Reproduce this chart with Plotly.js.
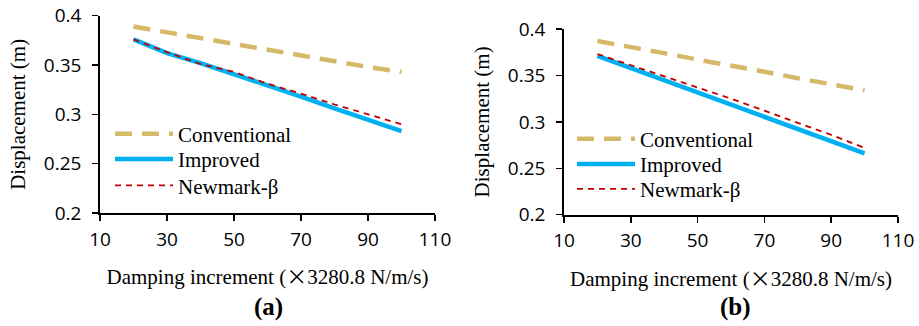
<!DOCTYPE html>
<html>
<head>
<meta charset="utf-8">
<script src="https://cdn.plot.ly/plotly-3.0.1.min.js"></script>
<style>html,body{margin:0;padding:0;background:#fff;}#chart{width:919px;height:326px;}</style>
</head>
<body>
<div id="chart"></div>
<script>
// Damping increment (x 3280.8 N/m/s)
const dampingX = [20, 30, 40, 50, 60, 70, 80, 90, 100];

// Panel (a)
const conventionalA = [0.389, 0.383, 0.377, 0.371, 0.366, 0.360, 0.354, 0.348, 0.343];
const improvedA     = [0.376, 0.362, 0.352, 0.341, 0.329, 0.318, 0.306, 0.295, 0.283];
const newmarkA      = [0.376, 0.363, 0.351, 0.343, 0.331, 0.321, 0.310, 0.300, 0.290];

// Panel (b)
const conventionalB = [0.387, 0.381, 0.374, 0.367, 0.361, 0.354, 0.347, 0.341, 0.334];
const improvedB     = [0.371, 0.358, 0.344, 0.332, 0.318, 0.306, 0.292, 0.279, 0.266];
const newmarkB      = [0.373, 0.361, 0.349, 0.337, 0.325, 0.312, 0.299, 0.286, 0.272];

const seriesNames = ["Conventional", "Improved", "Newmark-β"];
const xTickVals = [10, 30, 50, 70, 90, 110];
const yTickVals = [0.2, 0.25, 0.3, 0.35, 0.4];
const yTickText = ["0.2", "0.25", "0.3", "0.35", "0.4"];
const panelLabels = ["(a)", "(b)"];
const xTitle = "Damping increment (<span style=\"font-family:'Noto Sans CJK SC'\">×</span>3280.8 N/m/s)";
const yTitle = "Displacement (m)";

const W = 919, H = 326;
const serif = "Liberation Serif, Times New Roman, serif";
const sans = "Open Sans, sans-serif";

const styles = [
  {color: "#D4BA68", width: 4.5, dash: "17px,10px"},
  {color: "#00B0F0", width: 4.5, dash: "solid"},
  {color: "#C00000", width: 1.8, dash: "6px,5px"}
];

function mk(y, i, xa, ya, leg) {
  return {
    x: dampingX, y: y, type: "scatter", mode: "lines",
    name: seriesNames[i], line: styles[i],
    xaxis: xa, yaxis: ya, legend: leg, hoverinfo: "x+y"
  };
}

const data = [
  mk(conventionalA, 0, "x", "y", "legend"),
  mk(improvedA, 1, "x", "y", "legend2"),
  mk(newmarkA, 2, "x", "y", "legend3"),
  mk(conventionalB, 0, "x2", "y2", "legend4"),
  mk(improvedB, 1, "x2", "y2", "legend5"),
  mk(newmarkB, 2, "x2", "y2", "legend6")
];

function xAxis(domain, anchor) {
  return {
    domain: domain, anchor: anchor, range: [10, 110],
    tickvals: xTickVals, ticks: "outside", ticklen: 6, tickwidth: 1.5, tickcolor: "#000",
    ticklabelstandoff: 2,
    showline: true, linecolor: "#000", linewidth: 1.8, showgrid: false, zeroline: false,
    tickfont: {family: sans, size: 19, color: "#000"},
    title: {text: xTitle, font: {family: serif, size: 21, color: "#000"}, standoff: 19}
  };
}
function yAxis(domain, anchor) {
  return {
    domain: domain, anchor: anchor, range: [0.2, 0.4],
    tickvals: yTickVals, ticktext: yTickText, ticks: "outside", ticklen: 6, tickwidth: 1.5, tickcolor: "#000",
    ticklabelstandoff: 7,
    showline: true, linecolor: "#000", linewidth: 1.8, showgrid: false, zeroline: false,
    tickfont: {family: sans, size: 19, color: "#000"},
    title: {text: yTitle, font: {family: serif, size: 21, color: "#000"}, standoff: 12}
  };
}

const legendBase = {
  font: {family: serif, size: 21, color: "#000"},
  bgcolor: "rgba(0,0,0,0)", borderwidth: 0,
  xanchor: "left", yanchor: "middle", itemwidth: 58, tracegroupgap: 0,
  itemclick: false, itemdoubleclick: false
};
function leg(xpx, ypx) { return Object.assign({}, legendBase, {x: xpx / W, y: 1 - ypx / H}); }

const layout = {
  width: W, height: H,
  margin: {l: 0, r: 0, t: 0, b: 0},
  paper_bgcolor: "#fff", plot_bgcolor: "#fff",
  showlegend: true,
  xaxis: xAxis([100 / W, 435 / W], "y"),
  yaxis: yAxis([1 - 213 / H, 1 - 15.7 / H], "x"),
  xaxis2: xAxis([564 / W, 898 / W], "y2"),
  yaxis2: yAxis([1 - 214.7 / H, 1 - 29 / H], "x2"),
  legend: leg(110, 134),
  legend2: leg(110, 159.3),
  legend3: leg(110, 185.7),
  legend4: leg(572, 139),
  legend5: leg(572, 164.3),
  legend6: leg(572, 189.3),
  annotations: [
    {text: "<b>" + panelLabels[0] + "</b>", x: 268 / W, y: 1 - 307 / H, xref: "paper", yref: "paper",
     showarrow: false, font: {family: serif, size: 25, color: "#000"}, xanchor: "center", yanchor: "middle"},
    {text: "<b>" + panelLabels[1] + "</b>", x: 735 / W, y: 1 - 307 / H, xref: "paper", yref: "paper",
     showarrow: false, font: {family: serif, size: 25, color: "#000"}, xanchor: "center", yanchor: "middle"}
  ]
};

Plotly.newPlot("chart", data, layout, {displayModeBar: false, staticPlot: true});
</script>
</body>
</html>
